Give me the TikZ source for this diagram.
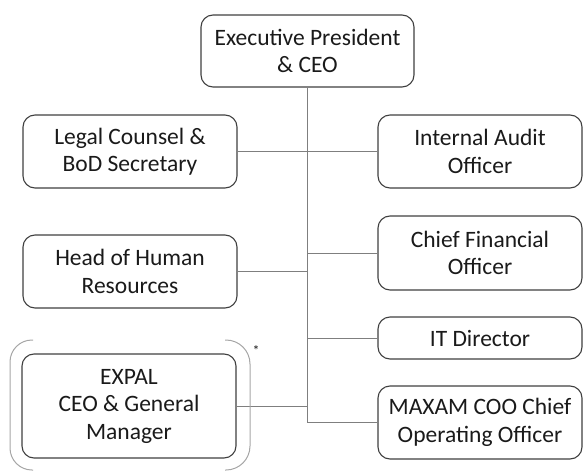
\documentclass[tikz,border=0pt]{standalone}
\usepackage{fontspec}
\setmainfont{Carlito}
\definecolor{boxline}{HTML}{404040}
\definecolor{linkline}{HTML}{7F7F7F}
\definecolor{bracketline}{HTML}{A6A6A6}
\definecolor{txt}{HTML}{1A1A1A}
\begin{document}
\begin{tikzpicture}[x=1pt,y=-1pt,
  orgbox/.style={draw=boxline,line width=1.1pt,rounded corners=12pt,fill=white,
    inner sep=0pt,align=center,text=txt,font=\fontsize{23.5}{27.5}\selectfont},
  link/.style={draw=linkline,line width=1pt},
  bracket/.style={draw=bracketline,line width=1pt}]
\useasboundingbox (0,0) rectangle (584,471);

% boxes
\node[orgbox,minimum width=213pt,minimum height=72pt] (ceo) at (307.5,51) {Executive President\\\& CEO};
\node[orgbox,minimum width=214pt,minimum height=73pt] (legal) at (130,151.5) {Legal Counsel \&\\BoD Secretary};
\node[orgbox,minimum width=204pt,minimum height=73pt] (audit) at (480,151.5) {Internal Audit\\Officer};
\node[orgbox,minimum width=214pt,minimum height=73pt] (hr) at (130,271.5) {Head of Human\\Resources};
\node[orgbox,minimum width=204pt,minimum height=74pt] (cfo) at (480,253) {Chief Financial\\Officer};
\node[orgbox,minimum width=204pt,minimum height=42pt] (it) at (480,338) {IT Director};
\node[orgbox,minimum width=214pt,minimum height=104pt] (expal) at (129,406) {EXPAL\\CEO \& General\\Manager};
\node[orgbox,minimum width=204pt,minimum height=73pt] (maxam) at (480,422.5) {MAXAM COO Chief\\Operating Officer};

% connectors
\draw[link] (ceo.south) -- (ceo.south |- maxam.west) -- (maxam.west);
\draw[link] (legal.east) -- (audit.west);
\draw[link] (hr.east) -- (hr.east -| ceo.south);
\draw[link] (cfo.west) -- (cfo.west -| ceo.south);
\draw[link] (it.west) -- (it.west -| ceo.south);
\draw[link] (expal.east) -- (expal.east -| ceo.south);

% brackets around EXPAL
\draw[bracket,rounded corners=22pt] (33,340) -- (10,340) -- (10,470) -- (33,470);
\draw[bracket,rounded corners=24pt] (225,340) -- (250,340) -- (250,470) -- (225,470);
\node[text=txt,font=\fontsize{14}{14}\selectfont,inner sep=0pt] (star) at (256,351) {*};
\end{tikzpicture}
\end{document}
